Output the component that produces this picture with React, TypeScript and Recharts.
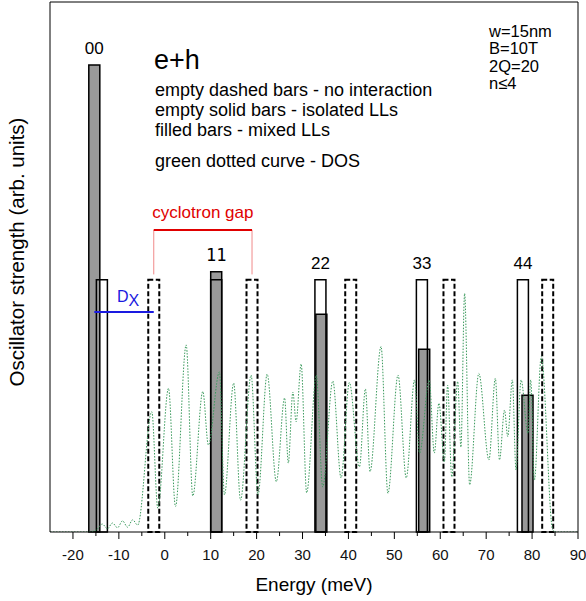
import React from 'react';
import {
  ComposedChart,
  XAxis,
  YAxis,
  Line,
  ReferenceArea,
  ReferenceLine,
} from 'recharts';

// Transition labels (Landau level pairs)
const levelLabels = ['00', '11', '22', '33', '44'];

// Filled bars - mixed LLs
const mixedEnergy = [-15.35, 11.2, 34.1, 56.5, 79.0];
const mixedStrength = [88.1, 49.1, 41.1, 34.5, 25.8];

// Empty solid bars - isolated LLs
const isolatedEnergy = [-13.7, 11.2, 33.9, 56.0, 78.0];
const isolatedStrength = [47.6, 47.6, 47.6, 47.6, 47.6];

// Empty dashed bars - no interaction
const freeEnergy = [-2.4, 19.0, 40.5, 61.9, 83.4];
const freeStrength = [47.6, 47.6, 47.6, 47.6, 47.6];

// Density of states (green dotted curve)
const dosEnergy = [
  -25, -16.6, -14.9, -13.6, -12.5, -11.4, -10.3, -9.2, -8.1, -7.0, -5.9,
  -2.83, -1.52, 0.81, 2.33, 4.66, 6.1, 8.28, 9.5, 11.9, 13.0, 15.0, 16.5,
  18.8, 20.3, 22.3, 24.3, 26.1, 26.9, 27.9, 28.6, 29.7, 30.9, 33.0, 34.4,
  36.6, 38.4, 40.2, 42.4, 43.7, 44.7, 47.1, 48.6, 50.8, 52.6, 54.4, 55.5,
  57.6, 58.7, 59.7, 60.9, 61.6, 62.5, 63.8, 64.5, 65.3, 66.4, 68.4, 70.6,
  72.0, 72.9, 74.0, 74.7, 75.7, 76.5, 77.6, 79.1, 79.7, 80.5, 82.0, 84.5,
  85.3, 90,
];
const dosValue = [
  0, 0, 0.4, 1.5, 0.6, 1.7, 0.8, 2.1, 0.9, 2.3, 1.3,
  22.7, 4.5, 27.1, 4.8, 35.3, 6.8, 26.5, 16.4, 30.2, 7.0, 28.1, 6.0,
  29.6, 7.0, 29.8, 9.5, 25.3, 13.0, 26.4, 20.8, 31.7, 7.4, 29.6, 8.5,
  28.5, 10.2, 28.2, 12.3, 27.0, 11.4, 35.0, 7.3, 29.6, 10.2, 28.7, 14.9,
  28.7, 14.9, 24.3, 13.2, 27.7, 10.4, 28.4, 16.0, 45.0, 8.9, 29.9, 13.6,
  29.0, 13.6, 23.0, 18.0, 28.7, 11.7, 28.7, 18.6, 28.7, 9.8, 33.1, 0.4,
  0, 0,
];

const energyTicks = [
  -20, -15, -10, -5, 0, 5, 10, 15, 20, 25, 30, 35, 40, 45, 50, 55, 60, 65,
  70, 75, 80, 85, 90,
];

const notes = [
  'empty dashed bars - no interaction',
  'empty solid bars - isolated LLs',
  'filled bars - mixed LLs',
];
const params = ['w=15nm', 'B=10T', '2Q=20', 'n\u22644'];

const gapLevel = 57.0;
const excitonLevel = 41.5;
const BAR_W = 2.4;

const FONT = '"Liberation Sans", Arial, Helvetica, sans-serif';

const dosData = dosEnergy.map((e, i) => ({ e, dos: dosValue[i] }));

const EnergyTick = ({ x, y, payload }: any) => {
  const major = payload.value % 10 === 0;
  return (
    <g>
      <line x1={x} x2={x} y1={y} y2={y + (major ? 7 : 4)} stroke="#000" strokeWidth={1} />
      {major && (
        <text x={x} y={y + 28} textAnchor="middle" fontSize={15} fill="#111" fontFamily={FONT}>
          {payload.value}
        </text>
      )}
    </g>
  );
};

const BarLabel = ({ viewBox, text, mono }: any) => {
  const { x, y, width } = viewBox;
  return (
    <text
      x={x + width / 2}
      y={y - 11}
      textAnchor="middle"
      fontSize={17}
      fill="#000"
      fontFamily={mono ? '"DejaVu Sans Mono", monospace' : FONT}
    >
      {text}
    </text>
  );
};

const GapLabel = ({ viewBox }: any) => {
  const { x, y, width } = viewBox;
  return (
    <text x={x + width / 2} y={y - 12} textAnchor="middle" fontSize={17} fill="#e00000" fontFamily={FONT}>
      cyclotron gap
    </text>
  );
};

const ExcitonLabel = ({ viewBox }: any) => {
  const { x, y, width } = viewBox;
  return (
    <text x={x + width / 2 + 4} y={y - 10} textAnchor="middle" fontSize={16} fill="#1a1ae0" fontFamily={FONT}>
      D
      <tspan fontSize={16} dy={4}>X</tspan>
    </text>
  );
};

const YLabel = () => (
  <text
    x={24}
    y={252}
    transform="rotate(-90, 24, 252)"
    textAnchor="middle"
    fontSize={20.5}
    fill="#000"
    fontFamily={FONT}
  >
    Oscillator strength (arb. units)
  </text>
);

const Annotations = () => (
  <g fontFamily={FONT} fill="#000">
    <text x={154} y={69} fontSize={27}>e+h</text>
    {notes.map((t, i) => (
      <text key={t} x={155} y={96 + i * 20} fontSize={18}>
        {t}
      </text>
    ))}
    <text x={155} y={167} fontSize={18}>green dotted curve - DOS</text>
    {params.map((t, i) => (
      <text key={t} x={489} y={37 + i * 17.3} fontSize={16.5}>
        {t}
      </text>
    ))}
  </g>
);

export default function App() {
  return (
    <div style={{ position: 'absolute', left: 0, top: 0, width: 586, height: 601, background: '#fff' }}>
      <ComposedChart
        width={586}
        height={601}
        data={dosData}
        margin={{ top: 0, right: 0, bottom: 0, left: 0 }}
        style={{ fontFamily: FONT }}
      >
        <XAxis
          dataKey="e"
          type="number"
          domain={[-25, 90]}
          allowDataOverflow
          ticks={energyTicks}
          interval={0}
          height={69}
          tickLine={false}
          tickSize={0}
          tickMargin={0}
          tick={<EnergyTick />}
          axisLine={{ stroke: '#000', strokeWidth: 1 }}
          label={{ value: 'Energy (meV)', position: 'insideBottom', offset: 10, fontSize: 19, fill: '#000' }}
        />
        <XAxis
          xAxisId="top"
          orientation="top"
          dataKey="e"
          type="number"
          domain={[-25, 90]}
          allowDataOverflow
          height={2}
          tick={false}
          tickLine={false}
          axisLine={{ stroke: '#000', strokeWidth: 1 }}
        />
        <YAxis
          type="number"
          domain={[0, 100]}
          allowDataOverflow
          width={50}
          tick={false}
          tickLine={false}
          axisLine={{ stroke: '#000', strokeWidth: 1 }}
          label={<YLabel />}
        />
        <YAxis
          yAxisId="right"
          orientation="right"
          type="number"
          domain={[0, 100]}
          width={8}
          tick={false}
          tickLine={false}
          axisLine={{ stroke: '#000', strokeWidth: 1 }}
        />

        {mixedEnergy.map((e, i) => (
          <ReferenceArea
            key={`mixed-${i}`}
            x1={e - BAR_W / 2}
            x2={e + BAR_W / 2}
            y1={0}
            y2={mixedStrength[i]}
            fill="#999999"
            fillOpacity={1}
            stroke="#000"
            strokeWidth={1.5}
            ifOverflow="visible"
            label={
              mixedStrength[i] > isolatedStrength[i] ? (
                <BarLabel text={levelLabels[i]} mono={levelLabels[i] === '11'} />
              ) : undefined
            }
          />
        ))}
        {isolatedEnergy.map((e, i) => (
          <ReferenceArea
            key={`isolated-${i}`}
            x1={e - BAR_W / 2}
            x2={e + BAR_W / 2}
            y1={0}
            y2={isolatedStrength[i]}
            fill="none"
            stroke="#000"
            strokeWidth={1.5}
            ifOverflow="visible"
            label={
              mixedStrength[i] > isolatedStrength[i] ? undefined : (
                <BarLabel text={levelLabels[i]} />
              )
            }
          />
        ))}
        {freeEnergy.map((e, i) => (
          <ReferenceArea
            key={`free-${i}`}
            x1={e - BAR_W / 2}
            x2={e + BAR_W / 2}
            y1={0}
            y2={freeStrength[i]}
            fill="none"
            stroke="#000"
            strokeWidth={2}
            strokeDasharray="5 2.5"
            ifOverflow="visible"
          />
        ))}

        <Line
          dataKey="dos"
          type="monotone"
          stroke="#3a9a5c"
          strokeWidth={1}
          strokeDasharray="1.5 1.5"
          dot={false}
          activeDot={false}
          isAnimationActive={false}
        />

        {/* cyclotron gap between the first two non-interacting transitions */}
        <ReferenceLine
          segment={[
            { x: freeEnergy[0], y: gapLevel },
            { x: freeEnergy[0], y: freeStrength[0] + 1 },
          ]}
          stroke="#f08a8a"
          strokeWidth={1}
          ifOverflow="visible"
        />
        <ReferenceLine
          segment={[
            { x: freeEnergy[1], y: gapLevel },
            { x: freeEnergy[1], y: freeStrength[1] + 1 },
          ]}
          stroke="#f08a8a"
          strokeWidth={1}
          ifOverflow="visible"
        />
        <ReferenceLine
          segment={[
            { x: freeEnergy[0], y: gapLevel },
            { x: freeEnergy[1], y: gapLevel },
          ]}
          stroke="#e00000"
          strokeWidth={2}
          ifOverflow="visible"
          label={<GapLabel />}
        />

        {/* exciton binding D_X */}
        <ReferenceLine
          segment={[
            { x: mixedEnergy[0], y: excitonLevel },
            { x: freeEnergy[0], y: excitonLevel },
          ]}
          stroke="#1a1ae0"
          strokeWidth={2}
          ifOverflow="visible"
          label={<ExcitonLabel />}
        />

        <Annotations />
      </ComposedChart>
    </div>
  );
}
